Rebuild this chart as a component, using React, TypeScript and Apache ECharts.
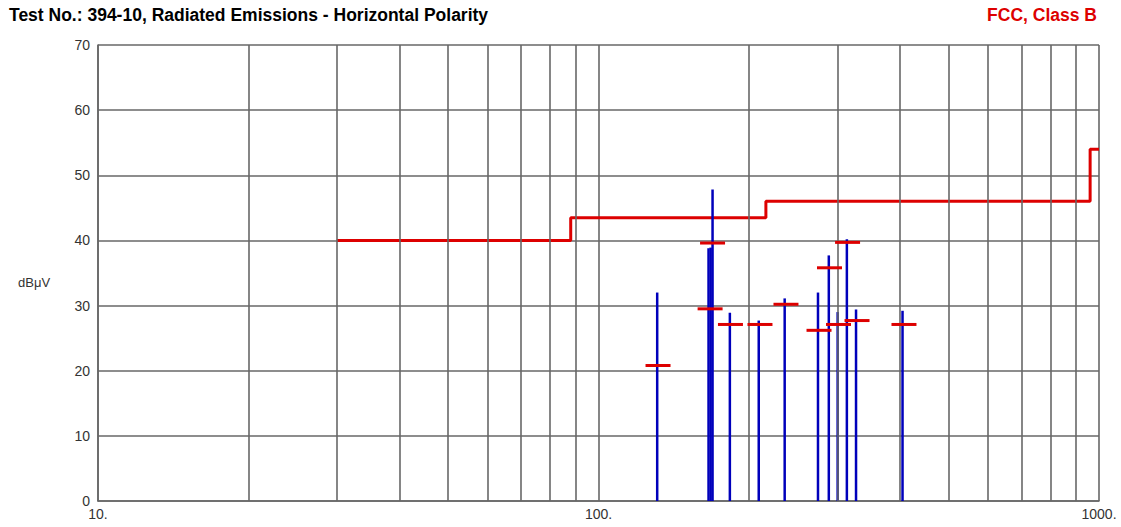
import React, { useEffect, useRef } from "react";
import * as echarts from "echarts";

const titleText = "Test No.: 394-10, Radiated Emissions - Horizontal Polarity";
const limitName = "FCC, Class B";
const yUnit = "dBμV";

const yTicks = [0, 10, 20, 30, 40, 50, 60, 70];
const gridFreqs = [20, 30, 40, 50, 60, 70, 80, 90, 200, 300, 400, 500, 600, 700, 800, 900];

const limitFreq = [30, 88, 88, 216, 216, 960, 960, 1000];
const limitLevel = [40, 40, 43.5, 43.5, 46, 46, 54, 54];

const peakFreq = [131, 165.9, 167.5, 169, 183, 209, 235.5, 274.5, 288.5, 300.5, 313.5, 327, 405];
const peakLevel = [32.0, 38.8, 38.9, 47.8, 28.9, 27.7, 31.1, 32.0, 37.7, 29.0, 40.2, 29.4, 29.2];

const qpFreq = [131.5, 167.1, 169.0, 183.5, 210.2, 236.9, 275.8, 289.4, 301.7, 314.5, 328.5, 407.7];
const qpLevel = [20.8, 29.5, 39.6, 27.1, 27.1, 30.2, 26.2, 35.8, 27.1, 39.7, 27.7, 27.1];

const GRID_COLOR = "#676767";
const RED = "#dd0000";
const BLUE = "#0000bb";
const FONT = "Arial, 'Liberation Sans', sans-serif";

export default function App() {
  const ref = useRef<HTMLDivElement>(null);

  useEffect(() => {
    if (!ref.current) return;
    const chart = echarts.init(ref.current, null, { renderer: "svg" });

    const option = {
      animation: false,
      backgroundColor: "#ffffff",
      textStyle: { fontFamily: FONT },
      grid: { left: 98, right: 22, top: 45, bottom: 26, containLabel: false },
      graphic: [
        {
          type: "text",
          left: 9,
          top: 6,
          style: { text: titleText, fill: "#000", font: `bold 17.5px ${FONT}` },
        },
        {
          type: "text",
          right: 24,
          top: 6,
          style: { text: limitName, fill: RED, font: `bold 17.5px ${FONT}` },
        },
        {
          type: "text",
          left: 18,
          top: 276,
          style: { text: yUnit, fill: "#333", font: `13px ${FONT}` },
        },
      ],
      xAxis: {
        type: "log",
        logBase: 10,
        min: 10,
        max: 1000,
        axisLine: { show: true, lineStyle: { color: GRID_COLOR, width: 1.6 } },
        axisTick: { show: false },
        axisLabel: {
          color: "#333",
          fontSize: 14,
          margin: 6,
          formatter: (v: number) => `${Math.round(v)}.`,
        },
        splitLine: { show: true, lineStyle: { color: GRID_COLOR, width: 1.6 } },
      },
      yAxis: {
        type: "value",
        min: 0,
        max: 70,
        interval: 10,
        axisLine: { show: true, lineStyle: { color: GRID_COLOR, width: 1.6 } },
        axisTick: { show: false },
        axisLabel: { color: "#333", fontSize: 14, margin: 8, formatter: (v: number) => (yTicks.includes(v) ? `${v}` : "") },
        splitLine: { show: true, lineStyle: { color: GRID_COLOR, width: 1.6 } },
      },
      series: [
        {
          type: "line",
          z: 1,
          data: [],
          silent: true,
          markLine: {
            silent: true,
            symbol: ["none", "none"],
            label: { show: false },
            lineStyle: { color: GRID_COLOR, width: 1.6, type: "solid" },
            data: gridFreqs.map((f) => ({ xAxis: f })),
          },
        },
        {
          type: "line",
          z: 3,
          data: limitFreq.map((f, i) => [f, limitLevel[i]]),
          symbol: "none",
          lineStyle: { color: RED, width: 3 },
          silent: true,
        },
        {
          type: "custom",
          z: 4,
          data: peakFreq.map((f, i) => [f, peakLevel[i]]),
          renderItem: (params: any, api: any) => {
            const f = api.value(0);
            const v = api.value(1);
            const p0 = api.coord([f, 0]);
            const p1 = api.coord([f, v]);
            return {
              type: "line",
              shape: { x1: p0[0], y1: p0[1], x2: p1[0], y2: p1[1] },
              style: { stroke: BLUE, lineWidth: 2.5 },
            };
          },
        },
        {
          type: "custom",
          z: 5,
          data: qpFreq.map((f, i) => [f, qpLevel[i]]),
          renderItem: (params: any, api: any) => {
            const f = api.value(0);
            const v = api.value(1);
            const p = api.coord([f, v]);
            return {
              type: "line",
              shape: { x1: p[0] - 12.5, y1: p[1], x2: p[0] + 12.5, y2: p[1] },
              style: { stroke: RED, lineWidth: 3 },
            };
          },
        },
      ],
    };

    chart.setOption(option as any);
    return () => chart.dispose();
  }, []);

  return (
    <div
      ref={ref}
      style={{ position: "fixed", left: 0, top: 0, width: 1121, height: 527, background: "#fff" }}
    />
  );
}
